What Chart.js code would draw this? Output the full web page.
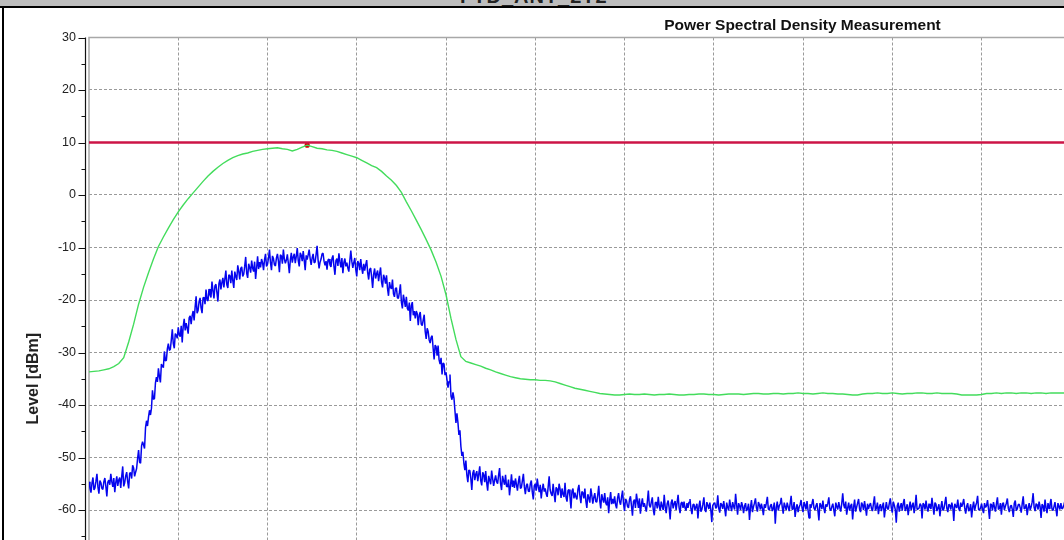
<!DOCTYPE html>
<html>
<head>
<meta charset="utf-8">
<title>Power Spectral Density Measurement</title>
<script src="https://cdn.jsdelivr.net/npm/chart.js@4/dist/chart.umd.min.js"></script>
<style>
  html, body { margin: 0; padding: 0; }
  body { width: 1064px; height: 540px; overflow: hidden; background: #fff; position: relative; font-family: 'Liberation Sans', Arial, sans-serif; }
  #winbar { position: absolute; left: 0; top: 0; width: 1064px; height: 6px; background: #bdbdbd; overflow: hidden; }
  #winbar span { position: absolute; left: 460px; top: -15px; font: bold 20px 'Liberation Sans', Arial, sans-serif; color: #222; letter-spacing: 1px; white-space: nowrap; }
  #winline { position: absolute; left: 0; top: 6px; width: 1064px; height: 2px; background: #000; }
  #winleft { position: absolute; left: 2px; top: 8px; width: 2px; height: 532px; background: #000; }
  #psd { position: absolute; left: 0; top: 8px; }
</style>
</head>
<body>
<div id="winbar"><span>FTD_ANT_2T2</span></div>
<div id="winline"></div>
<canvas id="psd" width="1605" height="742"></canvas>
<div id="winleft"></div>
<script>
// Frequency axis is expressed in screen divisions; the plot spans a little under 17 of them
const X_SPAN = 16.94;
const BLUE_STEP = 1 / 90;   // sweep points per division, clear/write trace
const GREEN_STEP = 1 / 18;  // sweep points per division, max-hold trace

// Clear/write trace levels [dBm]
const blueLevels = [
  -54.6, -55.9, -56.7, -54.9, -53.8, -56.2, -55.8, -54.5, -53.1, -55.6, -56.9, -54.4, -54.8, -55.9, -56.1, -54.6, -53.9, -55.5, -57.4, -54.7,
  -54.3, -55.2, -53.1, -54.6, -55.6, -53.9, -56.6, -54.8, -53.6, -55.4, -54.3, -53.8, -55.8, -53.6, -51.7, -55.5, -54.8, -53.5, -52.8, -54.6,
  -55.9, -53.0, -52.9, -54.0, -51.5, -52.0, -53.6, -52.8, -52.1, -50.2, -48.6, -50.9, -51.1, -47.8, -47.0, -47.6, -48.3, -44.3, -43.0, -44.0,
  -42.3, -41.0, -41.9, -40.6, -37.2, -38.9, -38.8, -35.8, -34.7, -35.6, -33.0, -34.6, -35.7, -32.2, -32.6, -32.9, -29.8, -31.6, -31.5, -29.3,
  -28.3, -29.6, -29.4, -27.6, -25.6, -28.3, -29.2, -26.4, -26.7, -27.3, -25.2, -26.6, -27.0, -24.9, -28.1, -25.0, -23.6, -25.8, -24.4, -25.3,
  -26.4, -23.4, -23.0, -24.6, -23.0, -22.1, -23.9, -21.4, -19.3, -22.5, -22.0, -20.3, -19.6, -21.5, -22.5, -19.6, -19.5, -20.8, -18.0, -19.9,
  -20.2, -17.9, -19.0, -19.5, -16.5, -18.2, -19.7, -17.3, -17.0, -18.6, -20.3, -16.9, -16.1, -18.0, -16.7, -15.8, -17.6, -16.0, -14.4, -17.1,
  -17.7, -15.2, -15.4, -16.8, -14.4, -16.3, -17.7, -14.6, -15.5, -16.2, -13.4, -14.5, -16.1, -14.0, -13.7, -15.5, -15.1, -13.6, -11.8, -14.9,
  -15.8, -13.1, -13.8, -14.8, -12.5, -13.9, -14.6, -12.7, -16.0, -13.9, -11.7, -14.1, -12.8, -13.8, -12.2, -12.9, -14.3, -12.3, -11.2, -13.6,
  -13.2, -12.0, -10.4, -12.9, -14.3, -11.6, -12.1, -13.3, -13.5, -12.0, -11.2, -12.6, -14.7, -11.4, -11.6, -13.1, -10.4, -12.2, -13.0, -12.4,
  -11.3, -13.0, -14.9, -12.4, -11.0, -12.9, -11.8, -11.2, -13.0, -11.7, -10.1, -12.5, -13.6, -11.0, -11.5, -12.6, -10.7, -12.4, -14.3, -11.5,
  -12.3, -11.4, -10.4, -12.1, -13.3, -12.0, -11.2, -12.9, -12.8, -11.3, -9.7, -12.4, -14.0, -12.8, -12.2, -11.2, -11.1, -12.6, -13.4, -12.6,
  -14.2, -12.4, -12.2, -13.3, -13.7, -12.1, -11.5, -13.6, -15.2, -12.5, -12.1, -13.5, -11.1, -12.7, -13.8, -12.0, -14.9, -12.9, -12.1, -13.6,
  -12.9, -13.9, -14.6, -12.5, -10.6, -12.6, -13.9, -12.9, -12.0, -14.2, -15.5, -12.6, -13.0, -14.3, -12.2, -13.9, -15.0, -13.1, -14.4, -13.3,
  -12.4, -14.8, -16.1, -14.2, -13.9, -15.6, -17.7, -15.1, -14.0, -15.9, -15.0, -14.4, -16.4, -15.0, -13.8, -16.6, -17.6, -15.2, -15.8, -16.9,
  -15.3, -17.8, -19.2, -16.6, -17.6, -17.9, -16.1, -18.8, -19.4, -17.8, -17.7, -19.6, -19.7, -18.5, -17.0, -20.4, -21.6, -19.0, -20.1, -21.3,
  -19.4, -21.6, -22.0, -20.5, -24.0, -21.1, -20.4, -22.9, -22.1, -23.5, -22.1, -22.6, -24.8, -22.9, -22.3, -24.6, -24.9, -23.8, -22.8, -26.0,
  -27.4, -25.4, -26.0, -27.6, -28.2, -27.1, -26.8, -29.2, -31.3, -28.6, -28.9, -30.6, -28.7, -31.4, -32.2, -31.0, -34.2, -32.0, -32.2, -34.3,
  -33.8, -35.2, -36.7, -35.5, -34.2, -38.3, -39.0, -37.6, -38.7, -41.1, -43.4, -41.6, -43.3, -45.7, -44.8, -47.9, -49.7, -48.9, -51.1, -52.4,
  -50.6, -53.3, -54.7, -52.4, -52.5, -54.0, -56.2, -53.0, -52.4, -54.3, -53.2, -52.6, -54.5, -53.2, -51.7, -54.4, -55.3, -52.8, -53.3, -54.7,
  -52.6, -54.8, -56.3, -53.5, -54.3, -55.1, -52.5, -54.0, -55.4, -54.3, -53.4, -54.6, -55.0, -53.4, -52.0, -55.0, -56.2, -53.5, -54.4, -55.2,
  -53.3, -55.5, -55.6, -54.2, -57.2, -55.4, -53.2, -55.6, -54.4, -55.8, -54.0, -55.1, -56.3, -54.6, -53.5, -55.9, -55.7, -54.4, -53.1, -55.6,
  -57.0, -55.3, -55.0, -56.4, -56.5, -55.0, -54.4, -56.6, -58.0, -55.4, -55.0, -56.3, -54.0, -55.5, -56.6, -55.2, -57.8, -56.1, -55.0, -56.5,
  -55.9, -56.9, -57.5, -55.6, -53.6, -56.2, -56.9, -57.3, -55.0, -56.9, -58.5, -55.7, -56.0, -57.2, -55.0, -56.0, -57.7, -55.9, -57.0, -57.5,
  -54.8, -57.6, -58.4, -56.3, -56.1, -57.5, -59.7, -56.4, -55.9, -57.8, -56.7, -57.5, -58.0, -56.1, -55.2, -57.3, -58.7, -56.5, -56.7, -57.8,
  -55.9, -58.3, -59.6, -57.0, -57.7, -58.6, -55.9, -57.2, -58.8, -57.6, -56.8, -58.4, -58.5, -57.1, -55.4, -58.2, -59.7, -57.0, -57.9, -58.6,
  -56.8, -58.6, -59.1, -57.6, -60.6, -58.2, -56.6, -58.9, -57.9, -58.8, -57.4, -59.0, -59.7, -57.7, -56.8, -58.4, -59.0, -57.5, -56.3, -58.8,
  -60.2, -57.9, -58.2, -59.3, -59.6, -58.0, -57.4, -59.2, -61.1, -58.4, -58.0, -59.6, -56.9, -58.3, -59.6, -57.8, -60.7, -58.9, -57.8, -59.4,
  -58.7, -59.5, -60.3, -58.4, -56.3, -59.1, -59.5, -58.5, -57.6, -60.0, -61.0, -58.6, -58.5, -59.7, -57.5, -59.2, -60.1, -58.4, -59.3, -60.0,
  -57.1, -59.4, -60.6, -58.8, -58.2, -59.6, -61.8, -58.6, -58.0, -59.7, -58.8, -58.3, -60.0, -58.6, -57.1, -59.5, -60.6, -58.7, -58.5, -59.6,
  -58.4, -59.6, -60.1, -58.7, -59.6, -58.5, -57.9, -59.8, -60.8, -59.0, -58.9, -60.0, -59.4, -58.8, -61.6, -59.3, -58.2, -60.3, -59.9, -58.9,
  -57.6, -59.9, -60.4, -58.5, -59.1, -59.8, -58.6, -60.0, -62.3, -59.1, -58.8, -58.6, -59.7, -59.4, -57.2, -59.7, -60.5, -58.7, -59.0, -59.8,
  -58.3, -59.7, -61.2, -58.6, -59.5, -60.1, -58.0, -59.3, -60.2, -58.5, -59.3, -59.9, -56.9, -59.0, -60.9, -58.7, -59.2, -60.0, -58.5, -59.2,
  -60.6, -59.3, -58.7, -60.2, -59.8, -58.8, -61.9, -59.5, -58.1, -60.4, -59.4, -58.7, -57.8, -59.6, -60.3, -58.5, -59.0, -59.9, -58.8, -59.7,
  -61.0, -58.9, -59.6, -58.7, -57.5, -59.8, -60.0, -59.2, -58.9, -60.2, -59.7, -58.6, -62.6, -59.5, -58.4, -60.1, -59.2, -58.8, -57.7, -59.4,
  -60.7, -58.6, -59.3, -60.0, -58.6, -59.4, -60.2, -58.8, -57.3, -59.9, -59.8, -58.5, -61.3, -59.7, -58.9, -60.4, -59.5, -59.0, -58.1, -59.6,
  -60.4, -58.5, -59.0, -59.9, -58.3, -60.0, -61.5, -58.9, -59.6, -58.8, -57.9, -59.6, -60.0, -59.2, -58.7, -60.1, -62.0, -58.7, -59.1, -59.8,
  -58.2, -59.7, -60.6, -58.9, -59.4, -58.7, -57.6, -59.8, -60.1, -59.4, -58.8, -60.0, -61.2, -58.6, -59.3, -59.9, -58.5, -59.5, -60.3, -58.8,
  -56.8, -59.0, -59.7, -58.4, -60.9, -59.6, -58.6, -60.1, -59.2, -58.8, -61.8, -59.4, -58.0, -60.3, -59.5, -58.7, -57.9, -59.8, -60.4, -58.6,
  -59.0, -60.0, -58.3, -59.6, -61.1, -58.8, -59.8, -59.1, -58.7, -59.7, -60.2, -58.8, -57.4, -60.1, -59.6, -58.6, -60.8, -59.4, -58.9, -60.2,
  -59.3, -58.6, -61.4, -59.8, -58.5, -59.7, -59.9, -58.7, -57.8, -59.6, -60.5, -58.4, -59.1, -59.9, -62.4, -59.2, -58.6, -60.3, -59.4, -58.7,
  -60.1, -58.8, -57.9, -60.2, -59.7, -58.9, -61.0, -59.5, -58.4, -60.0, -59.2, -58.6, -60.6, -59.3, -57.1, -59.9, -59.8, -59.6, -58.8, -59.1,
  -61.6, -58.7, -59.0, -59.9, -58.2, -59.6, -60.3, -58.8, -59.5, -59.8, -57.7, -59.4, -60.9, -58.6, -58.9, -60.2, -59.6, -58.9, -61.2, -59.5,
  -58.3, -60.1, -59.8, -58.7, -57.5, -59.7, -60.4, -58.9, -59.1, -59.9, -58.6, -59.5, -62.1, -58.8, -59.3, -59.6, -58.0, -59.7, -60.2, -58.6,
  -59.4, -58.8, -57.9, -59.6, -60.7, -59.3, -58.7, -60.2, -59.9, -58.9, -61.4, -59.5, -58.4, -60.1, -59.2, -58.6, -57.3, -59.9, -60.0, -59.6,
  -58.8, -59.9, -60.6, -58.7, -59.5, -59.2, -58.1, -59.8, -61.7, -58.8, -59.0, -60.1, -58.5, -59.4, -60.3, -58.8, -57.6, -59.9, -59.7, -58.7,
  -60.9, -58.9, -58.6, -60.0, -59.3, -58.7, -57.8, -59.7, -60.4, -59.3, -59.1, -59.9, -61.3, -58.7, -58.2, -60.1, -59.8, -59.0, -58.9, -59.6,
  -60.5, -58.8, -57.4, -59.8, -59.6, -58.9, -61.0, -59.6, -58.7, -60.0, -59.4, -58.5, -56.8, -59.5, -60.2, -58.8, -59.0, -59.9, -58.4, -59.3,
  -61.5, -58.9, -59.2, -60.3, -58.0, -59.6, -60.6, -58.7, -59.7, -59.0, -57.9, -59.8, -60.1, -59.4, -58.5, -59.8, -61.2, -58.7, -59.3, -59.9,
  -58.7, -59.8, -59.6, -59.0, -58.3
];

// Max-hold trace levels [dBm]
const greenLevels = [
  -33.7, -33.6, -33.5, -33.3, -33.1, -32.7, -32.1, -31.0, -28.0, -24.6,
  -20.8, -17.6, -14.8, -12.2, -9.8, -8.0, -6.3, -4.7, -3.2, -1.9,
  -0.7, 0.4, 1.5, 2.6, 3.6, 4.5, 5.3, 6.0, 6.6, 7.1,
  7.5, 7.8, 8.0, 8.3, 8.5, 8.7, 8.8, 8.9, 9.0, 8.8,
  8.7, 8.4, 8.7, 9.1, 9.5, 9.2, 8.9, 8.8, 8.6, 8.5,
  8.3, 8.0, 7.7, 7.4, 7.1, 6.6, 6.1, 5.6, 5.2, 4.5,
  3.6, 2.8, 1.8, 0.5, -1.3, -3.0, -4.8, -6.6, -8.5, -10.5,
  -12.8, -15.5, -19.0, -23.5, -27.5, -30.8, -31.7, -32.0, -32.3, -32.6,
  -33.0, -33.3, -33.7, -34.0, -34.3, -34.6, -34.8, -35.0, -35.1, -35.2,
  -35.2, -35.3, -35.3, -35.4, -35.6, -35.9, -36.2, -36.5, -36.8, -37.0,
  -37.2, -37.4, -37.6, -37.8, -37.9, -38.0, -38.1, -38.1, -38.0, -37.9,
  -38.0, -38.0, -37.9, -38.0, -38.1, -38.0, -38.0, -37.9, -38.0, -38.1,
  -38.1, -38.0, -38.0, -37.9, -37.9, -38.0, -38.0, -38.1, -38.0, -37.9,
  -37.9, -37.9, -38.0, -37.9, -37.8, -37.8, -37.9, -37.9, -37.8, -37.8,
  -37.9, -37.8, -37.8, -37.7, -37.8, -37.8, -37.9, -37.8, -37.7, -37.8,
  -37.8, -37.9, -37.9, -38.0, -38.1, -38.1, -37.9, -37.8, -37.8, -37.7,
  -37.8, -37.8, -37.7, -37.8, -37.9, -37.8, -37.8, -37.7, -37.7, -37.8,
  -37.8, -37.7, -37.8, -37.8, -37.8, -37.9, -38.1, -38.1, -38.1, -38.1,
  -38.0, -37.8, -37.8, -37.7, -37.8, -37.7, -37.7, -37.8, -37.7, -37.7,
  -37.8, -37.7, -37.7, -37.8, -37.7, -37.7, -37.7, -37.7
];

// Limit line and peak marker
const limitLevel = 10;
const markerFreq = 44 / 18;
const markerLevel = 9.5;

const toPoints = (levels, step) => levels.map((v, i) => ({ x: i * step, y: v }));

const FONT = "'Liberation Sans', Arial, sans-serif";
const GRID = '#9a9a9a';

// Plot frame and the outer y axis with its major/minor tick marks
const framePlugin = {
  id: 'frame',
  beforeDatasetsDraw(chart) {
    const { ctx, chartArea: { left, top, right, bottom } } = chart;
    ctx.save();
    ctx.strokeStyle = '#a8a8a8';
    ctx.lineWidth = 1.5;
    ctx.beginPath();
    ctx.moveTo(left, bottom);
    ctx.lineTo(left, top);
    ctx.lineTo(right, top);
    ctx.stroke();
    ctx.restore();
  },
  afterDraw(chart) {
    const { ctx, chartArea: { left, top, bottom }, scales: { y } } = chart;
    const ax = left - 3.5;
    ctx.save();
    ctx.strokeStyle = '#111';
    ctx.lineWidth = 1.2;
    ctx.beginPath();
    ctx.moveTo(ax, top);
    ctx.lineTo(ax, bottom);
    for (let v = y.min; v <= y.max; v += 5) {
      const py = Math.round(y.getPixelForValue(v)) + 0.5;
      const len = (v % 10 === 0) ? 7 : 4;
      ctx.moveTo(ax - len, py);
      ctx.lineTo(ax, py);
    }
    ctx.stroke();
    ctx.restore();
  }
};

new Chart(document.getElementById('psd'), {
  type: 'line',
  data: {
    datasets: [
      {
        label: 'Trace 1',
        data: toPoints(blueLevels, BLUE_STEP),
        borderColor: '#0505ee',
        borderWidth: 1.5,
        borderJoinStyle: 'bevel',
        pointRadius: 0,
        tension: 0
      },
      {
        label: 'Max Hold',
        data: toPoints(greenLevels, GREEN_STEP),
        borderColor: '#43dc5c',
        borderWidth: 1.4,
        pointRadius: 0,
        tension: 0
      },
      {
        label: 'Limit',
        data: [{ x: 0, y: limitLevel }, { x: X_SPAN, y: limitLevel }],
        borderColor: '#cc1446',
        borderWidth: 2.6,
        pointRadius: 0
      },
      {
        label: 'Marker 1',
        data: [{ x: markerFreq, y: markerLevel }],
        showLine: false,
        pointRadius: 2.6,
        pointBackgroundColor: '#d40000',
        pointBorderWidth: 0
      }
    ]
  },
  options: {
    responsive: false,
    animation: false,
    devicePixelRatio: 1,
    events: [],
    layout: { padding: 0 },
    plugins: {
      legend: { display: false },
      tooltip: { enabled: false },
      title: {
        display: true,
        text: 'Power Spectral Density Measurement',
        color: '#111',
        font: { family: FONT, size: 15.5, weight: 'bold' },
        padding: { top: 8, bottom: 2.9 }
      }
    },
    scales: {
      x: {
        type: 'linear',
        min: 0,
        max: X_SPAN,
        afterFit(scale) { scale.height = 30; },
        ticks: { display: false, stepSize: 1 },
        grid: {
          color: (c) => (c.tick && c.tick.value === 0) ? 'rgba(0,0,0,0)' : GRID,
          lineWidth: 1,
          drawTicks: false
        },
        border: { display: false, dash: [3, 2] }
      },
      y: {
        type: 'linear',
        min: -100,
        max: 30,
        afterFit(scale) { scale.width = 89; },
        ticks: {
          stepSize: 10,
          padding: 13,
          color: '#222',
          font: { family: FONT, size: 12.5 }
        },
        grid: {
          color: (c) => (c.tick && c.tick.value === 30) ? 'rgba(0,0,0,0)' : GRID,
          lineWidth: 1,
          drawTicks: false
        },
        border: { display: false, dash: [3, 2] },
        title: {
          display: true,
          text: 'Level [dBm]',
          color: '#222',
          font: { family: FONT, size: 16, weight: 'bold' },
          padding: { top: 24.4, bottom: 0 }
        }
      }
    }
  },
  plugins: [framePlugin]
});
</script>
</body>
</html>
